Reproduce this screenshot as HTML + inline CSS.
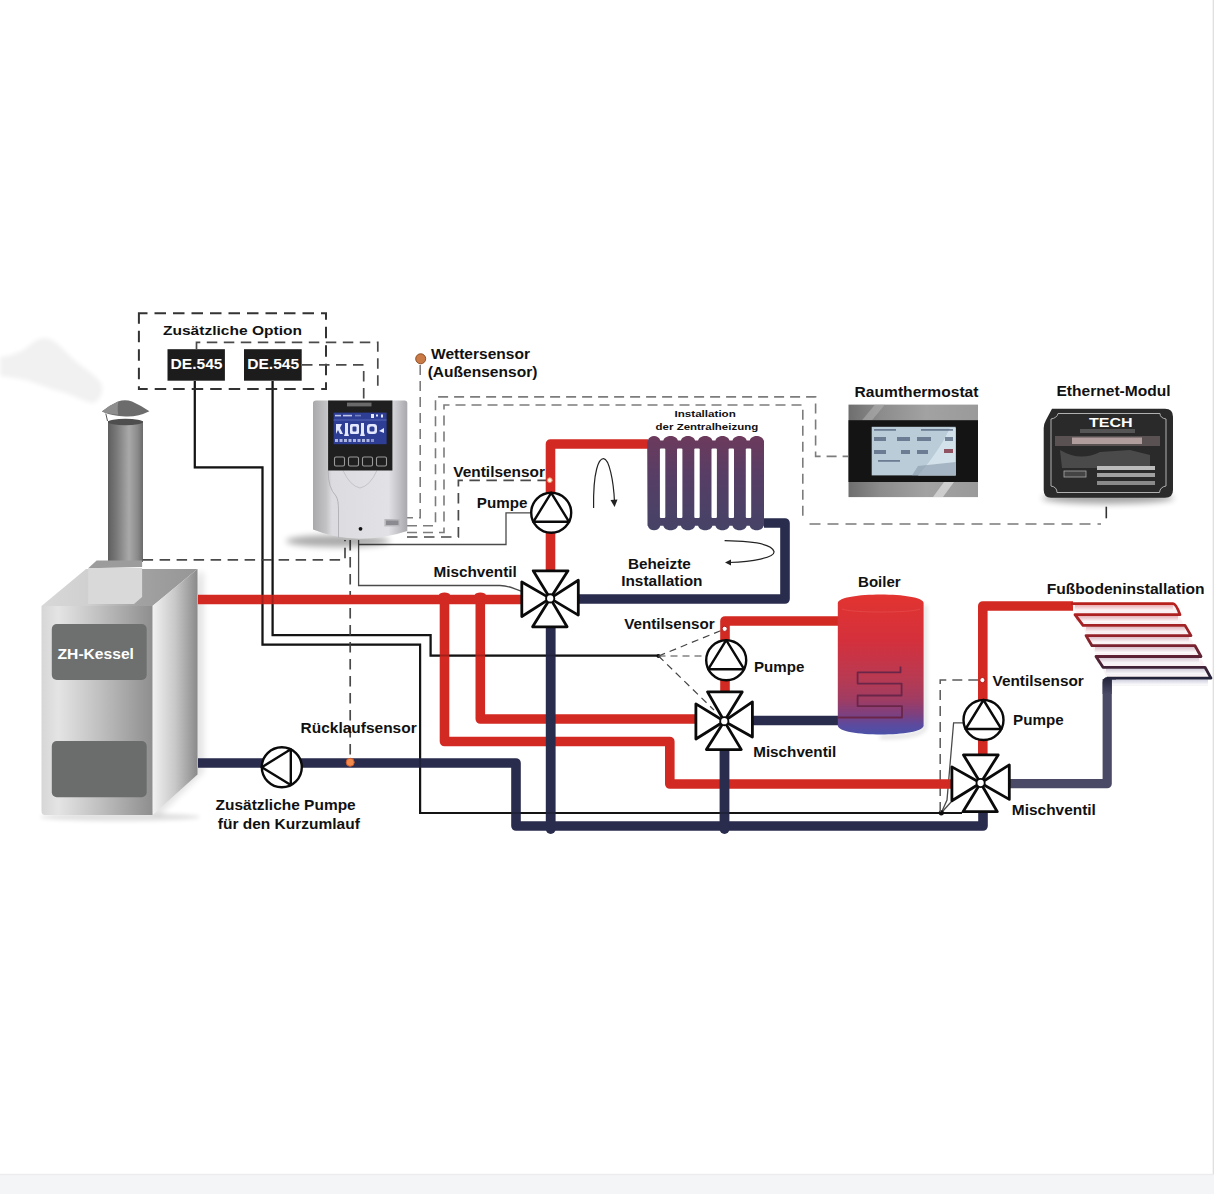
<!DOCTYPE html>
<html><head><meta charset="utf-8">
<style>
html,body{margin:0;padding:0;background:#fff;width:1214px;height:1194px;overflow:hidden;}
svg{display:block;position:absolute;left:0;top:0;}
text{font-family:"Liberation Sans",sans-serif;font-weight:bold;fill:#111;}
</style></head><body>
<svg width="1214" height="1194" viewBox="0 0 1214 1194">
<defs>
<linearGradient id="chim" x1="0" x2="1" y1="0" y2="0">
<stop offset="0" stop-color="#5e5e5e"/><stop offset="0.25" stop-color="#7a7a7a"/><stop offset="0.6" stop-color="#a9a9a9"/><stop offset="0.85" stop-color="#8a8a8a"/><stop offset="1" stop-color="#6a6a6a"/>
</linearGradient>
<linearGradient id="front" x1="0" x2="1" y1="0" y2="0">
<stop offset="0" stop-color="#d6d6d6"/><stop offset="0.15" stop-color="#e4e4e4"/><stop offset="0.55" stop-color="#bdbdbd"/><stop offset="1" stop-color="#8e8e8e"/>
</linearGradient>
<linearGradient id="side" x1="0" x2="1" y1="0" y2="0">
<stop offset="0" stop-color="#f2f2f2"/><stop offset="0.5" stop-color="#c8c8c8"/><stop offset="1" stop-color="#8a8a8a"/>
</linearGradient>
<linearGradient id="top" x1="0" x2="1" y1="0" y2="0">
<stop offset="0" stop-color="#d8d8d8"/><stop offset="0.3" stop-color="#d0d0d0"/><stop offset="0.62" stop-color="#a2a2a2"/><stop offset="1" stop-color="#969696"/>
</linearGradient>
<linearGradient id="tank" x1="0" x2="0" y1="0" y2="1">
<stop offset="0" stop-color="#e23430"/><stop offset="0.33" stop-color="#d4303c"/><stop offset="0.6" stop-color="#b83a52"/><stop offset="0.75" stop-color="#a03c62"/><stop offset="0.86" stop-color="#7c4080"/><stop offset="0.93" stop-color="#5c4a9e"/><stop offset="1" stop-color="#4a52a8"/>
</linearGradient>
<linearGradient id="rad" x1="0" x2="0" y1="0" y2="1">
<stop offset="0" stop-color="#6c3a5c"/><stop offset="0.45" stop-color="#563e66"/><stop offset="1" stop-color="#454366"/>
</linearGradient>
<linearGradient id="floor" x1="0" x2="0" y1="0" y2="1">
<stop offset="0" stop-color="#b8221e"/><stop offset="0.4" stop-color="#9a2228"/><stop offset="0.7" stop-color="#5e2234"/><stop offset="1" stop-color="#22223a"/>
</linearGradient>
<linearGradient id="ctrl" x1="0" x2="1" y1="0" y2="0">
<stop offset="0" stop-color="#a9a9ab"/><stop offset="0.14" stop-color="#c3c3c6"/><stop offset="0.2" stop-color="#dcdce0"/><stop offset="0.8" stop-color="#e2e2e6"/><stop offset="0.9" stop-color="#c6c6ca"/><stop offset="1" stop-color="#a8a8ac"/>
</linearGradient>
<linearGradient id="silver" x1="0" x2="1" y1="0" y2="0">
<stop offset="0" stop-color="#6e6e6e"/><stop offset="0.25" stop-color="#8c8c8c"/><stop offset="0.6" stop-color="#a2a2a2"/><stop offset="1" stop-color="#9a9a9a"/>
</linearGradient>
<radialGradient id="shadow" cx="0.5" cy="0.5" r="0.5">
<stop offset="0" stop-color="#000" stop-opacity="0.35"/><stop offset="1" stop-color="#000" stop-opacity="0"/>
</radialGradient>
</defs>
<rect width="1214" height="1194" fill="#fff"/>
<!-- bottom strip + right edge -->
<rect x="0" y="1174.5" width="1214" height="20" fill="#f4f5f7"/>
<rect x="0" y="1173.8" width="1214" height="1.4" fill="#ececee"/>
<rect x="1212" y="0" width="1" height="1174" fill="#f4f4f4"/><rect x="1213" y="0" width="1" height="1174" fill="#e0e0e0"/>

<!-- smoke -->
<path d="M0,357 C12,356 22,352 30,345 C36,339 44,336 52,340 C60,345 66,352 74,360 C84,368 95,375 101,383 C104,390 102,398 94,403 C86,402 76,397 66,393 C55,390 45,387 35,383 C24,379 12,377 0,376 Z" fill="#f1f1f1" filter="url(#blur2)"/>


<!-- ============ CHIMNEY + BOILER ============ -->
<defs><filter id="blur3" x="-50%" y="-50%" width="200%" height="200%"><feGaussianBlur stdDeviation="3"/></filter>
<filter id="blur2" x="-50%" y="-50%" width="200%" height="200%"><feGaussianBlur stdDeviation="2"/></filter>
<filter id="blur1" x="-50%" y="-50%" width="200%" height="200%"><feGaussianBlur stdDeviation="1"/></filter></defs>
<ellipse cx="120" cy="817" rx="80" ry="4" fill="#000" opacity="0.12" filter="url(#blur2)"/>
<path d="M197.5,572 L204,572 L204,772 L160,815 L152,815 Z" fill="#000" opacity="0.10" filter="url(#blur3)"/>
<rect x="108" y="421" width="35" height="141" fill="url(#chim)"/>
<ellipse cx="125.5" cy="422" rx="17.5" ry="3.2" fill="#4e4e4e"/>
<path d="M105.8,413.5 L107.5,421" stroke="#555" stroke-width="1"/>
<path d="M101.9,411.5 Q110,405 118,401.5 Q125,399.2 132,401.5 Q141,405.5 149.4,411.3 Q138,417 125.6,416.5 Q112,416 101.9,411.5 Z" fill="#6c6c6c"/>
<path d="M101.9,411.5 Q110,405 118.5,401.3 Q117,407 118.2,414.8 Q108,414 101.9,411.5 Z" fill="#8e8e8e"/>
<!-- boiler top face -->
<path d="M41.5,606 L86,569 L197.5,569 L152.5,606 Z" fill="url(#top)"/>
<!-- right face -->
<path d="M152.5,606 L197.5,569 L197.5,774.6 L152.5,815 Z" fill="url(#side)"/>
<!-- front face -->
<path d="M41.5,606 H152.5 V815 H45 Q41.5,815 41.5,811 Z" fill="url(#front)"/>

<!-- collar -->
<path d="M96.6,560.5 H142.1 V567 L88.2,568.2 Z" fill="#9c9c9c"/>
<path d="M88.2,568 H142.1 V597 L134,604 H88.2 Z" fill="#d9d9d9"/>
<!-- panels -->
<rect x="51.8" y="624" width="94.9" height="56" rx="5" fill="#6e6f6f"/>
<rect x="51.8" y="741" width="94.9" height="56.3" rx="5" fill="#6b6d6d"/>
<text x="57.6" y="659.3" font-size="15" textLength="76.3" lengthAdjust="spacingAndGlyphs" style="fill:#fff;stroke:none;font-weight:bold">ZH-Kessel</text>

<!-- ============ WIRES (black) ============ -->
<g fill="none" stroke="#1a1a1a" stroke-width="2.2" stroke-linejoin="miter">
<path d="M194.8,381 V467.4 H262.5 V644.7 H420.1 V813 H962"/>
<path d="M272.6,381 V635.1 H430.6 V655.6 H658.5"/>
</g>
<g fill="none" stroke="#4a4a4a" stroke-width="1.3">
<path d="M358.6,540 V585.5 H500 C510,585.5 514,589 521,591"/>
<path d="M358.6,544.5 H506 V512.8 H530"/>
<path d="M963,722.8 H953.6 L947,800 L941.3,812.8"/>
<path d="M941.3,812.8 L952,801"/>
</g>
<circle cx="941.3" cy="812.8" r="2.6" fill="#111"/>
<circle cx="658.5" cy="656" r="2" fill="#111"/>

<!-- ============ DASHED ============ -->
<g fill="none" stroke="#333" stroke-width="2" stroke-dasharray="11.5 7">
<rect x="138.9" y="313.2" width="187.1" height="75.7" stroke-dashoffset="2.9"/>
</g>
<g fill="none" stroke="#4a4a4a" stroke-width="1.7" stroke-dasharray="10.5 6.5">
<path d="M196.5,349 V342.3 H377.8 V392"/>
<path d="M302,364.8 H363.7 V400"/>
<path d="M142.6,559.8 H345 V540"/>
<path d="M350.2,540 V758"/>
<path d="M407,537 H458.4 V480.4 H547"/>
</g>
<g fill="none" stroke="#7c7c7c" stroke-width="1.6" stroke-dasharray="10 6">
<path d="M420.2,365 V517.8 H407"/>
<path d="M407,525.8 H435.5 V396.9 H815.6 V456.4 H848"/>
<path d="M407,532.5 H444 V405 H802.8 V517.4"/>
</g>
<path d="M940.2,812 V680.1 H980" fill="none" stroke="#5a5a5a" stroke-width="1.5" stroke-dasharray="10 6"/>
<path d="M809.5,524 H1101" fill="none" stroke="#7a7a7a" stroke-width="1.4" stroke-dasharray="11 7"/>
<path d="M1106.3,506.7 V518.3" stroke="#333" stroke-width="1.6"/>
<g fill="none" stroke="#444" stroke-width="1.2" stroke-dasharray="7 5">
<path d="M658.5,656 L724.7,629"/>
<path d="M658.5,656 H705.4"/>
<path d="M658.5,656 L714,710"/>
</g>

<!-- ============ PIPES (red) ============ -->
<g fill="none" stroke="#d22a22" stroke-width="9.6" stroke-linejoin="round">
<path d="M198,599.5 H521"/>
<path d="M444.5,599.5 V741.5 H669.8 V784 H952"/>
<path d="M480.3,599.5 V719 H696"/>
<path d="M550.5,571 V444 H648"/>
<path d="M725,692 V621 H839"/>
<path d="M982.8,755 V606 H1073"/>
</g>
<ellipse cx="444.5" cy="595" rx="5.5" ry="2.5" fill="#d22a22"/>
<ellipse cx="480.3" cy="595" rx="5.5" ry="2.5" fill="#d22a22"/>

<!-- ============ PIPES (navy) ============ -->
<g fill="none" stroke="#2a2c4e" stroke-width="9.6" stroke-linejoin="round">
<path d="M198,763 H516 V826 H983 V812"/>
<path d="M578,599 H785 V523 H764"/>
<path d="M753,720.5 H839"/>
</g>
<g fill="none" stroke="#2a2c4e" stroke-width="9.8" stroke-linecap="round">
<path d="M550.7,627 V829"/>
<path d="M724.5,750 V829"/>
</g>
<path d="M1010,783.7 H1107.2 V679" fill="none" stroke="#4a4a66" stroke-width="9.2" stroke-linejoin="round"/>



<g fill="none" stroke="#000" stroke-width="2" opacity="0.22">
<path d="M194.8,381 V467.4 H262.5 V644.7 H420.1 V813 H962"/>
<path d="M272.6,381 V635.1 H430.6 V655.6 H658.5"/>
</g>
<!-- ============ DE boxes ============ -->
<rect x="167.5" y="349.2" width="57.4" height="31.5" fill="#1c1c1c"/>
<rect x="244" y="349.2" width="57.7" height="31.5" fill="#1c1c1c"/>
<text x="170.5" y="368.6" font-size="15" textLength="52" lengthAdjust="spacingAndGlyphs" style="fill:#fff;stroke:none;font-weight:bold">DE.545</text>
<text x="247.2" y="368.6" font-size="15" textLength="52" lengthAdjust="spacingAndGlyphs" style="fill:#fff;stroke:none;font-weight:bold">DE.545</text>

<!-- ============ CONTROLLER ============ -->
<ellipse cx="338" cy="541" rx="52" ry="6" fill="#000" opacity="0.33" filter="url(#blur3)"/>
<path d="M313,403 Q313,400.5 316,400.5 H404.5 Q407.3,400.5 407.3,403 V531 Q385,538.5 360,538.8 Q335,538.5 313,529.5 Z" fill="url(#ctrl)"/>
<path d="M328.1,470.4 Q328,488 336,496 Q338.5,500 338.5,510 V538" fill="none" stroke="#b4b4b8" stroke-width="1"/>
<path d="M343,470.4 Q350,486 360,488 Q370,486 377,470.4" fill="none" stroke="#c4c4c8" stroke-width="1"/>
<rect x="328.1" y="400.5" width="64.3" height="70" fill="#1f1f1f"/>
<rect x="333.6" y="412.6" width="53" height="31.6" fill="#2e3e94"/>
<rect x="333.6" y="419.5" width="53" height="1" fill="#6a7acc" opacity="0.7"/>
<g fill="#e4e8ff">
<rect x="335" y="414.8" width="6" height="1.6" opacity="0.8"/><rect x="343" y="414.8" width="9" height="1.6" opacity="0.8"/><rect x="355" y="414.8" width="6" height="1.6" opacity="0.4"/>
<rect x="371" y="414" width="3" height="4"/><rect x="376" y="414.5" width="2" height="2"/><rect x="381" y="414.5" width="2" height="3"/>
<path d="M336,424 H342 L340,428 L343,434 H340 L338,430 L336,434 Z"/>
<path d="M345,423 H348 V433 L349,436 H344 L345,433 Z"/>
<rect x="350" y="424" width="9" height="10" rx="1.5"/>
<path d="M361,423 H364 V433 L365,436 H360 L361,433 Z"/>
<rect x="367" y="424" width="10" height="10" rx="3"/>
<path d="M379,431 L384,428 L384,433 Z"/>
<rect x="335" y="439" width="3" height="3" opacity="0.7"/><rect x="339.5" y="439" width="3" height="3" opacity="0.7"/><rect x="344" y="439" width="3" height="3" opacity="0.7"/><rect x="348.5" y="439" width="3" height="3" opacity="0.7"/><rect x="353" y="439" width="3" height="3" opacity="0.7"/><rect x="357.5" y="439" width="3" height="3" opacity="0.7"/><rect x="362" y="439" width="3" height="3" opacity="0.7"/><rect x="366.5" y="439" width="3" height="3" opacity="0.7"/><rect x="371" y="439" width="3" height="3" opacity="0.5"/>
</g>
<g fill="#2e3e94"><rect x="352.5" y="426.5" width="4" height="5" rx="1"/><rect x="369.5" y="426.5" width="5" height="5" rx="1.5"/></g>
<rect x="347" y="402.6" width="24.5" height="3.8" fill="#6a6a6a"/>
<g fill="none" stroke="#9a9a9a" stroke-width="1.1">
<rect x="334.5" y="457" width="10" height="9" rx="1.5"/><rect x="348.5" y="457" width="10" height="9" rx="1.5"/>
<rect x="362.5" y="457" width="10" height="9" rx="1.5"/><rect x="376.5" y="457" width="10" height="9" rx="1.5"/>
</g>
<rect x="384.4" y="519" width="15.6" height="7.4" fill="#b8b8bc"/>
<rect x="386" y="520.5" width="12.5" height="4.5" fill="#8a8a90"/>
<circle cx="360.5" cy="528.8" r="1.9" fill="#111"/>

<!-- ============ RADIATOR ============ -->
<path d="M647.2,442.5 L647.8,440.5 C649.3,434.5 658.8,434.5 660.3,440.5 L661.8,440.5 L663.3,440.5 C664.8,434.5 676.4,434.5 677.9,440.5 L679.4,440.5 L680.9,440.5 C682.4,434.5 693.6,434.5 695.1,440.5 L696.6,440.5 L698.1,440.5 C699.6,434.5 710.9,434.5 712.4,440.5 L713.9,440.5 L715.4,440.5 C716.9,434.5 728.0,434.5 729.5,440.5 L731.0,440.5 L732.5,440.5 C734.0,434.5 745.2,434.5 746.7,440.5 L748.2,440.5 L749.7,440.5 C751.2,434.5 762.2,434.5 763.7,440.5 L764.0,440.5 V525.8 L763.7,525.8 C762.2,531.8 751.2,531.8 749.7,525.8 L748.2,525.8 L746.7,525.8 C745.2,531.8 734.0,531.8 732.5,525.8 L731.0,525.8 L729.5,525.8 C728.0,531.8 716.9,531.8 715.4,525.8 L713.9,525.8 L712.4,525.8 C710.9,531.8 699.6,531.8 698.1,525.8 L696.6,525.8 L695.1,525.8 C693.6,531.8 682.4,531.8 680.9,525.8 L679.4,525.8 L677.9,525.8 C676.4,531.8 664.8,531.8 663.3,525.8 L661.8,525.8 L660.3,525.8 C658.8,531.8 649.3,531.8 647.8,525.8 L647.5,525.8 Z" fill="url(#rad)"/>
<g fill="#fff">
<rect x="659.9" y="448.6" width="5.4" height="69.5" rx="1"/><rect x="677" y="448.6" width="5.4" height="69.5" rx="1"/>
<rect x="694.3" y="448.6" width="5.4" height="69.5" rx="1"/><rect x="711.5" y="448.6" width="5.4" height="69.5" rx="1"/>
<rect x="728.6" y="448.6" width="5.4" height="69.5" rx="1"/><rect x="745.8" y="448.6" width="5.4" height="69.5" rx="1"/>
</g>
<!-- arrows -->
<path d="M593.6,508 C593,470 599,458.5 603.6,458.7 C609,459 613.5,480 614.5,502" fill="none" stroke="#222" stroke-width="1.2"/>
<path d="M610.5,500 L614.6,507 L617.5,499.5 Z" fill="#222"/>
<path d="M724.6,540.7 C750,541 772,544 774,551.5 C775,558 752,561.5 729,562.5" fill="none" stroke="#222" stroke-width="1.2"/>
<path d="M731,559.5 L725,562.5 L731,565.5 Z" fill="#222"/>

<!-- ============ TANK ============ -->
<path d="M925,605 V727 Q923,737 880,737" fill="none" stroke="#000" stroke-width="4" opacity="0.12" filter="url(#blur2)"/>
<path d="M837.8,603 C838,591.5 923.6,591.5 923.6,603 V725.5 C923.6,737.5 837.8,737.5 837.8,725.5 Z" fill="url(#tank)"/>
<path d="M842,609 C850,613 912,613 920,609" fill="none" stroke="#e85050" stroke-width="1" opacity="0.6"/>
<path d="M900.5,666.5 V672.3 H857.6 V683.6 H901.6 V695.5 H857.6 V706.2 H902 V717.5 H838" fill="none" stroke="#6a2648" stroke-width="1.8" stroke-linejoin="round"/>


<!-- ============ RAUMTHERMOSTAT ============ -->
<rect x="848.5" y="404.6" width="129.5" height="92.5" fill="url(#silver)"/>
<path d="M875,404.6 L885,404.6 L872,420.2 L862,420.2 Z" fill="#b8b8b8" opacity="0.5"/>
<path d="M933,497 L944,482 H954 L943,497 Z" fill="#d8d8d8" opacity="0.8"/>
<rect x="848.5" y="420.2" width="129.5" height="61.8" fill="#141414"/>
<rect x="871.7" y="426.8" width="84" height="48.6" fill="#b9ccd8"/>
<path d="M918,475.4 C930,462 942,445 950,428 H955.7 V475.4 Z" fill="#d6e4ec" opacity="0.9"/>
<path d="M912,475.4 L918,466 L955.7,462 V475.4 Z" fill="#8898a8" opacity="0.6"/>
<g fill="#3a4a66" opacity="0.6">
<rect x="874" y="429" width="22" height="1.8"/><rect x="921" y="429" width="32" height="1.8"/>
<rect x="874" y="437" width="12" height="4"/><rect x="897" y="437" width="13" height="4"/><rect x="917" y="437" width="14" height="4"/><rect x="945" y="437" width="8" height="4"/>
<rect x="874" y="450" width="12" height="4"/><rect x="901" y="450" width="9" height="4"/><rect x="917" y="450" width="11" height="4"/>
<rect x="878" y="460" width="22" height="1.8"/>
</g>
<rect x="944" y="449" width="9" height="4" fill="#803040" opacity="0.8"/>
<text x="854.6" y="396.7" font-size="14" textLength="123.9" lengthAdjust="spacingAndGlyphs">Raumthermostat</text>

<!-- ============ ETHERNET ============ -->
<ellipse cx="1108" cy="498" rx="66" ry="6" fill="#000" opacity="0.35" filter="url(#blur3)"/>
<path d="M1052,408.7 H1165 Q1173,408.7 1173,416.7 V490 Q1173,497.7 1165,497.7 H1051 Q1043.7,497.7 1043.7,490 V428 Q1043.7,424 1046,420 Z" fill="#2a2a2a"/>
<path d="M1058,413.5 H1160 Q1160,418 1166,419 V486 Q1160,487 1159.5,492.5 H1057 Q1057,487 1051,486 V419 Q1057,418 1058,413.5 Z" fill="none" stroke="#b0b0b0" stroke-width="1"/>
<rect x="1055" y="436" width="105" height="10" fill="#5a5252"/>
<rect x="1072" y="437.5" width="70" height="6.5" fill="#c8b0b0" opacity="0.8"/>
<rect x="1080" y="429" width="55" height="4" fill="#555"/>
<path d="M1060,450 Q1080,462 1100,452 L1130,450 L1150,455 V468 H1062 Z" fill="#4a4a4a"/>
<rect x="1097" y="466" width="58" height="4" fill="#bbb"/><rect x="1097" y="473" width="58" height="4" fill="#a0a0a0"/><rect x="1097" y="481" width="58" height="4" fill="#8a8a8a"/>
<rect x="1064" y="471" width="22" height="6" fill="#444" stroke="#aaa" stroke-width="0.8"/>
<text x="1089" y="427.3" font-size="13.5" textLength="43.6" lengthAdjust="spacingAndGlyphs" style="fill:#fff;stroke:none;font-weight:bold">TECH</text>
<text x="1056.5" y="395.9" font-size="14.5" textLength="114" lengthAdjust="spacingAndGlyphs">Ethernet-Modul</text>

<!-- ============ FLOOR HEATING ============ -->
<linearGradient id="fsh" x1="0" x2="0" y1="0" y2="1"><stop offset="0" stop-color="#fff" stop-opacity="0"/><stop offset="1" stop-color="#fff" stop-opacity="1"/></linearGradient>
<path d="M1072,603.6 H1173 L1211,678.1 H1107 Z" fill="#f9f1f3"/>
<rect x="1075.0" y="604.8" width="98.0" height="6" fill="#e8aab0"/>
<rect x="1075.0" y="604.7" width="98.0" height="6.2" fill="url(#fsh)"/>
<rect x="1076.0" y="615.9" width="102.0" height="6" fill="#e4afb6"/>
<rect x="1076.0" y="615.8" width="102.0" height="6.2" fill="url(#fsh)"/>
<rect x="1086.0" y="626.6" width="99.0" height="6" fill="#e0b4bd"/>
<rect x="1086.0" y="626.5" width="99.0" height="6.2" fill="url(#fsh)"/>
<rect x="1087.0" y="636.8" width="102.0" height="6" fill="#dcb9c3"/>
<rect x="1087.0" y="636.7" width="102.0" height="6.2" fill="url(#fsh)"/>
<rect x="1095.0" y="646.9" width="100.0" height="6" fill="#d8beca"/>
<rect x="1095.0" y="646.8" width="100.0" height="6.2" fill="url(#fsh)"/>
<rect x="1097.0" y="657.7" width="102.0" height="6" fill="#d4c3d0"/>
<rect x="1097.0" y="657.6" width="102.0" height="6.2" fill="url(#fsh)"/>
<rect x="1106.0" y="668.5" width="99.0" height="6" fill="#d0c8d7"/>
<rect x="1106.0" y="668.4" width="99.0" height="6.2" fill="url(#fsh)"/>
<rect x="1112.0" y="679.3" width="96.0" height="6" fill="#cdcdde"/>
<rect x="1112.0" y="679.2" width="96.0" height="6.2" fill="url(#fsh)"/>
<path d="M1071,603.6 H1173 Q1176,603.6 1180,614.7 H1075 L1083,625.4 H1185 L1191,635.6 H1086 L1092,645.7 H1195 L1201,656.5 H1096 L1103,667.3 H1205 L1211,678.1 H1107" fill="none" stroke="url(#floor)" stroke-width="2.8" stroke-linejoin="round"/>
<linearGradient id="ptop" x1="0" x2="0" y1="0" y2="1"><stop offset="0" stop-color="#22223a"/><stop offset="1" stop-color="#4a4a66"/></linearGradient>
<path d="M1102.6,694 V682.5 Q1102.6,676.9 1108.2,676.9 H1116 V679.4 H1111.8 V694 Z" fill="url(#ptop)"/>
<!-- ============ SENSORS ============ -->
<circle cx="420.7" cy="358.8" r="5" fill="#c97a45" stroke="#8e4f25" stroke-width="1"/>
<circle cx="350.2" cy="762.3" r="4" fill="#f28a4e" stroke="#cc5a2c" stroke-width="1"/>
<circle cx="549.8" cy="480.2" r="2.4" fill="#fff6e6" stroke="#e89060" stroke-width="1"/>
<circle cx="724.7" cy="628.8" r="2.6" fill="#fff" stroke="#b01818" stroke-width="1"/>
<circle cx="982.4" cy="680.1" r="2.6" fill="#fff" stroke="#b01818" stroke-width="1"/>

<!-- ============ PUMPS ============ -->
<g fill="#fff" stroke="#0a0a0a" stroke-width="2.4" stroke-linejoin="round">
<g transform="translate(551.2,512.8)"><circle r="20"/><path d="M0,-20 L17.9,9 H-17.9 Z" fill="none"/></g>
<g transform="translate(726.2,660.2)"><circle r="20"/><path d="M0,-20 L17.9,9 H-17.9 Z" fill="none"/></g>
<g transform="translate(983.5,720)"><circle r="20"/><path d="M0,-20 L17.9,9 H-17.9 Z" fill="none"/></g>
<g transform="translate(281.8,767.2) rotate(-90)"><circle r="20"/><path d="M0,-20 L17.9,9 H-17.9 Z" fill="none"/></g>
</g>

<!-- ============ VALVES ============ -->
<g fill="#fff" stroke="#0a0a0a" stroke-width="2.8" stroke-linejoin="round">
<g transform="translate(550.2,598.4)">
<path d="M-17.0,-27.6 H17.8 L0,0 Z"/><path d="M-17.6,28.4 H16.9 L0,0 Z"/>
<path d="M-28.4,-16.4 V18.1 L0,0 Z"/><path d="M28.1,-18.1 V16.7 L0,0 Z"/>
<circle r="4.1" stroke-width="1.9"/></g>
<g transform="translate(724.3,721.2)">
<path d="M-16.8,-29.3 H17.9 L0,0 Z"/><path d="M-17.9,28.4 H17.0 L0,0 Z"/>
<path d="M-28.4,-17.3 V17.8 L0,0 Z"/><path d="M28.1,-19.3 V15.8 L0,0 Z"/>
<circle r="4.1" stroke-width="1.9"/></g>
<g transform="translate(980.6,783.0)">
<path d="M-17.1,-28.1 H17.6 L0,0 Z"/><path d="M-17.6,28.7 H16.7 L0,0 Z"/>
<path d="M-28.7,-16.1 V17.8 L0,0 Z"/><path d="M28.7,-18.1 V16.4 L0,0 Z"/>
<circle r="4.1" stroke-width="1.9"/></g>
</g>

<!-- ============ TEXT ============ -->
<text x="163" y="334.8" font-size="13.2" textLength="139" lengthAdjust="spacingAndGlyphs">Zusätzliche Option</text>
<text x="431" y="358.8" font-size="15.1" textLength="99" lengthAdjust="spacingAndGlyphs">Wettersensor</text>
<text x="427.7" y="376.8" font-size="15.1" textLength="109.7" lengthAdjust="spacingAndGlyphs">(Außensensor)</text>
<text x="674.5" y="417" font-size="9.6" textLength="61.3" lengthAdjust="spacingAndGlyphs">Installation</text>
<text x="655.6" y="429.8" font-size="9.6" textLength="102.6" lengthAdjust="spacingAndGlyphs">der Zentralheizung</text>
<text x="453.3" y="476.5" font-size="15.1" textLength="91.7" lengthAdjust="spacingAndGlyphs">Ventilsensor</text>
<text x="476.8" y="507.5" font-size="15.1" textLength="50.6" lengthAdjust="spacingAndGlyphs">Pumpe</text>
<text x="433.4" y="577.2" font-size="15.1" textLength="83.4" lengthAdjust="spacingAndGlyphs">Mischventil</text>
<text x="628" y="569.2" font-size="15.1" textLength="62.8" lengthAdjust="spacingAndGlyphs">Beheizte</text>
<text x="621.2" y="586" font-size="15.1" textLength="81.3" lengthAdjust="spacingAndGlyphs">Installation</text>
<text x="858" y="587.1" font-size="15.1" textLength="42.7" lengthAdjust="spacingAndGlyphs">Boiler</text>
<text x="1046.7" y="594.3" font-size="15.1" textLength="157.9" lengthAdjust="spacingAndGlyphs">Fußbodeninstallation</text>
<text x="624.2" y="629.3" font-size="15.1" textLength="90.4" lengthAdjust="spacingAndGlyphs">Ventilsensor</text>
<text x="754" y="672.4" font-size="15.1" textLength="50.3" lengthAdjust="spacingAndGlyphs">Pumpe</text>
<text x="753.2" y="757" font-size="15.1" textLength="83" lengthAdjust="spacingAndGlyphs">Mischventil</text>
<text x="992.5" y="686" font-size="15.1" textLength="91.3" lengthAdjust="spacingAndGlyphs">Ventilsensor</text>
<text x="1013.1" y="724.5" font-size="15.1" textLength="50.6" lengthAdjust="spacingAndGlyphs">Pumpe</text>
<text x="1011.8" y="815.4" font-size="15.1" textLength="84.1" lengthAdjust="spacingAndGlyphs">Mischventil</text>
<text x="300.6" y="733" font-size="15.1" textLength="116.1" lengthAdjust="spacingAndGlyphs">Rücklaufsensor</text>
<text x="215.6" y="810" font-size="15.1" textLength="140.1" lengthAdjust="spacingAndGlyphs">Zusätzliche Pumpe</text>
<text x="217.8" y="828.8" font-size="15.1" textLength="142" lengthAdjust="spacingAndGlyphs">für den Kurzumlauf</text>

</svg>
</body></html>
